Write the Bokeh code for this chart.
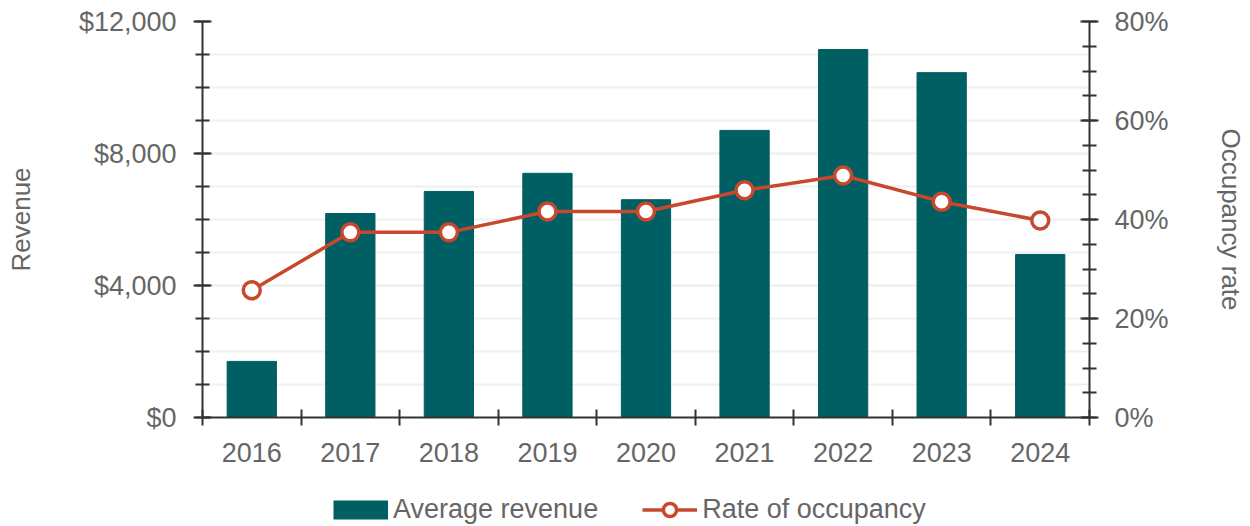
from bokeh.plotting import figure
from bokeh.layouts import column
from bokeh.models import (Range1d, LinearAxis, FixedTicker, Legend, LegendItem,
                          ColumnDataSource, NumeralTickFormatter, CustomJSTickFormatter,
                          PrintfTickFormatter)
from bokeh.embed import file_html
from bokeh.resources import INLINE

years = ["2016", "2017", "2018", "2019", "2020", "2021", "2022", "2023", "2024"]
revenue = [1700, 6180, 6850, 7400, 6600, 8700, 11150, 10450, 4940]
occupancy = [25.7, 37.4, 37.4, 41.6, 41.6, 45.9, 48.9, 43.6, 39.8]

FONT = "Liberation Sans"
TXT = "#666666"
AX = "#333333"
TEAL = "#005f63"
RED = "#c8472f"

pos = [i + 0.5 for i in range(len(years))]
src = ColumnDataSource(dict(x=pos, year=years, revenue=revenue, occ=occupancy))

p = figure(width=1248, height=475,
           x_range=Range1d(0, len(years)), y_range=Range1d(0, 12000),
           output_backend="svg", toolbar_location=None,
           min_border_left=202, min_border_right=156,
           min_border_top=21, min_border_bottom=58)
p.extra_y_ranges = {"occ": Range1d(0, 80)}
p.outline_line_color = None
p.background_fill_color = "white"

bars = p.vbar(x="x", top="revenue", width=0.5, source=src, color=TEAL)
line = p.line(x="x", y="occ", source=src, y_range_name="occ",
              line_color=RED, line_width=3.5)
dots = p.scatter(x="x", y="occ", source=src, y_range_name="occ", size=17,
                 fill_color="white", line_color=RED, line_width=3.5)

def style_axis(ax, major_len, minor_len):
    ax.axis_line_color = AX
    ax.axis_line_width = 2
    ax.major_tick_line_color = AX
    ax.major_tick_line_width = 2
    ax.minor_tick_line_color = AX
    ax.minor_tick_line_width = 2
    ax.major_tick_in = major_len
    ax.major_tick_out = major_len
    ax.minor_tick_in = minor_len
    ax.minor_tick_out = minor_len
    ax.major_label_text_font = FONT
    ax.major_label_text_color = TXT
    ax.major_label_text_font_size = "27px"
    ax.axis_label_text_font = FONT
    ax.axis_label_text_color = TXT
    ax.axis_label_text_font_size = "26px"
    ax.axis_label_text_font_style = "normal"

# left axis
ly = p.yaxis[0]
ly.ticker = FixedTicker(ticks=[0, 4000, 8000, 12000],
                        minor_ticks=list(range(0, 12001, 1000)))
ly.formatter = NumeralTickFormatter(format="$0,0")
ly.axis_label = "Revenue"
style_axis(ly, 9, 7)
ly.major_label_standoff = 17
ly.axis_label_standoff = 40

# right axis
ry = LinearAxis(y_range_name="occ",
                ticker=FixedTicker(ticks=[0, 20, 40, 60, 80],
                                   minor_ticks=list(range(0, 81, 5))),
                formatter=PrintfTickFormatter(format="%d%%"),
                axis_label="Occupancy rate")
style_axis(ry, 9, 7)
ry.major_label_standoff = 16
ry.axis_label_standoff = 44
p.add_layout(ry, "right")

# x axis
bx = p.xaxis[0]
bx.ticker = FixedTicker(ticks=pos, minor_ticks=list(range(0, len(years) + 1)))
bx.formatter = CustomJSTickFormatter(args=dict(years=years),
                                     code="return years[Math.floor(tick)] || '';")
style_axis(bx, 0, 8)
bx.major_tick_line_color = None
bx.major_label_standoff = 17

# grid
p.xgrid.grid_line_color = None
p.ygrid.ticker = ly.ticker
p.ygrid.grid_line_color = "#f0f0f0"
p.ygrid.grid_line_width = 2
p.ygrid.minor_grid_line_color = "#f0f0f0"
p.ygrid.minor_grid_line_width = 2

# legend strip below the chart (its own small figure, no axes)
lp = figure(width=1248, height=51, x_range=Range1d(0, 1), y_range=Range1d(0, 1),
            output_backend="svg", toolbar_location=None,
            x_axis_location=None, y_axis_location=None,
            min_border=0)
lp.outline_line_color = None
lp.grid.visible = False
nan_src = ColumnDataSource(dict(x=[float("nan")], y=[float("nan")]))
sw_bar = lp.line(x="x", y="y", source=nan_src, line_color=TEAL,
                 line_width=19, line_cap="butt")
sw_line = lp.line(x="x", y="y", source=nan_src, line_color=RED, line_width=3.5)
sw_dot = lp.scatter(x="x", y="y", source=nan_src, fill_color="white",
                    line_color=RED, line_width=3.5)

legend = Legend(items=[LegendItem(label="Average revenue", renderers=[sw_bar]),
                       LegendItem(label="Rate of occupancy", renderers=[sw_line, sw_dot])],
                location=(131, 0), orientation="horizontal",
                glyph_width=55, glyph_height=33, label_standoff=5,
                label_text_font=FONT, label_text_color=TXT,
                label_text_font_size="27px", border_line_color=None,
                background_fill_alpha=0, padding=0, margin=0, spacing=44)
lp.add_layout(legend)

layout = column(p, lp, spacing=0)
open("out.html", "w").write(file_html(layout, INLINE))
